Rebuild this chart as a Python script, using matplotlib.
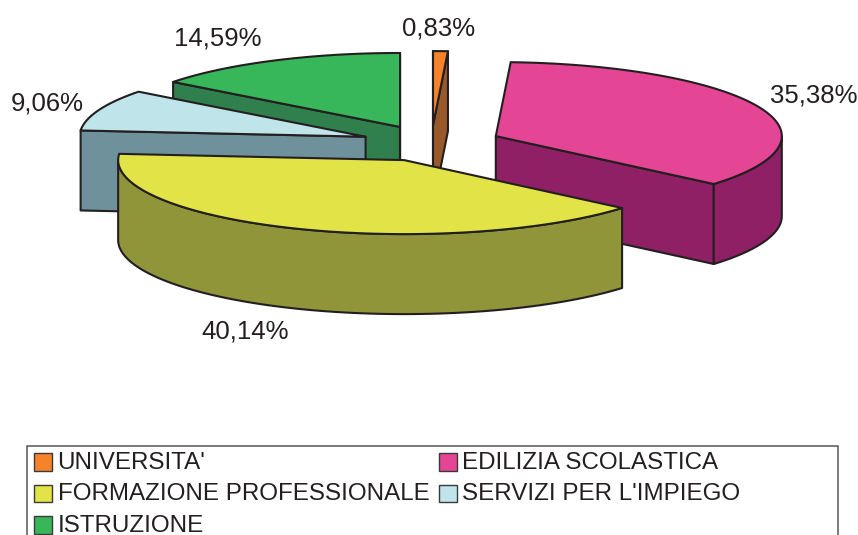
import numpy as np
import matplotlib
matplotlib.use('Agg')
import matplotlib.pyplot as plt
from matplotlib.patches import Polygon, Rectangle

plt.rcParams['font.family'] = ['Liberation Sans', 'DejaVu Sans']

# data, clockwise from 12 o'clock
categories = ["UNIVERSITA'", "EDILIZIA SCOLASTICA", "FORMAZIONE PROFESSIONALE",
              "SERVIZI PER L'IMPIEGO", "ISTRUZIONE"]
values = [0.83, 35.38, 40.14, 9.06, 14.59]

top_colors = ['#F6832A', '#E54595', '#E1E346', '#BFE4EA', '#38B65A']
side_colors = ['#99592B', '#8F2065', '#90953A', '#6F919C', '#2F804D']
label_xy = [(438.5, 28.5), (813.5, 95.5), (245.5, 331.5), (47.5, 103.5), (217.5, 38.5)]

# pie geometry in pixels
cx, cy = 431.2, 143.3
a, b = 286, 74
depth = 80
explode = 0.246
edge = '#231F20'
lw = 1.5

fig = plt.figure(figsize=(8.58, 5.35), dpi=100)
ax = fig.add_axes([0, 0, 1, 1])
ax.set_xlim(0, 858)
ax.set_ylim(535, 0)
ax.axis('off')


def pt(center, deg):
    t = np.radians(deg)
    return center[0] + a * np.sin(t), center[1] - b * np.cos(t)


def down(points):
    return [(x, y + depth) for x, y in points]


def draw_slice(start, end, top, side, z):
    mid = (start + end) / 2
    c = pt((cx, cy), mid)
    c = (cx + explode * (c[0] - cx), cy + explode * (c[1] - cy))
    inner = pt(c, mid)

    # cut faces that look towards the viewer
    for deg in (start, end):
        p = pt(c, deg)
        nx, ny = -(p[1] - c[1]), p[0] - c[0]
        if nx * (inner[0] - c[0]) + ny * (inner[1] - c[1]) > 0:
            nx, ny = -nx, -ny
        if ny >= -1e-3:
            face = [c, p] + down([p, c])
            ax.add_patch(Polygon(face, closed=True, fc=side, ec=edge, lw=lw, joinstyle='round', zorder=z))

    # outer wall, front half only
    lo, hi = max(start, 90), min(end, 270)
    if lo < hi:
        arc = [pt(c, d) for d in np.linspace(lo, hi, 80)]
        wall = arc + down(arc)[::-1]
        ax.add_patch(Polygon(wall, closed=True, fc=side, ec=edge, lw=lw, joinstyle='round', zorder=z))

    # top face
    arc = [pt(c, d) for d in np.linspace(start, end, 120)]
    ax.add_patch(Polygon([c] + arc, closed=True, fc=top, ec=edge, lw=lw, joinstyle='round', zorder=z))


edges = np.concatenate([[0], np.cumsum(values)]) * 3.6
draw_order = [4, 3, 0, 1, 2]
for z, i in enumerate(draw_order):
    draw_slice(edges[i], edges[i + 1], top_colors[i], side_colors[i], z + 2)

for v, (x, y) in zip(values, label_xy):
    txt = f'{v:.2f}%'.replace('.', ',')
    ax.text(x, y, txt, fontsize=18.5, color=edge, ha='center', va='center', zorder=10)

# legend box runs off the bottom of the image
ax.add_patch(Rectangle((27, 446), 811, 100, fc='white', ec='#555555', lw=1.1, zorder=1))
cols = [34, 439, 34, 439, 34]
rows = [453, 453, 484.5, 484.5, 516]
for name, col, x, y in zip(categories, top_colors, cols, rows):
    ax.add_patch(Rectangle((x, y), 17.5, 17.5, fc=col, ec='#3A3A3A', lw=1, zorder=3))
    ax.text(x + 23.5, y + 16, name, fontsize=17.35, color=edge, ha='left', va='baseline', zorder=3)

fig.savefig('out.png', dpi=100)
